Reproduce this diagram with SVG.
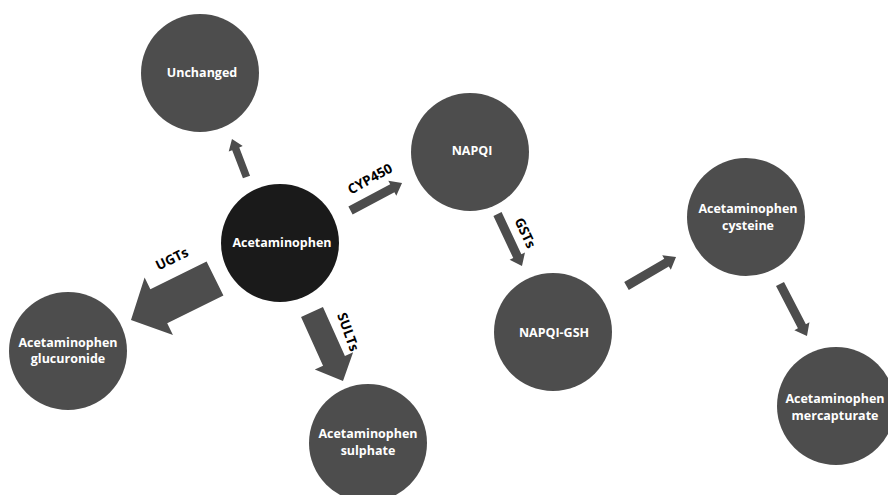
<svg xmlns="http://www.w3.org/2000/svg" width="888" height="495" viewBox="0 0 888 495">
<style>
.node{fill:#4d4d4d}
.main{fill:#1a1a1a}
.nt{fill:#ffffff;font-family:"Open Sans","Liberation Sans",sans-serif;font-weight:700;font-size:12.5px;text-anchor:middle}
.arr{fill:#4d4d4d}
.lbl{fill:#000000;font-family:"Open Sans","Liberation Sans",sans-serif;font-weight:700;font-size:13.5px;text-anchor:middle}
</style>
<rect width="888" height="495" fill="#ffffff"/>
<g id="connectors">
<polygon class="arr" transform="translate(246.5,177) rotate(-110.9)" points="0,-3.8 30.2,-3.8 30.2,-7.5 40.7,0 30.2,7.5 30.2,3.8 0,3.8"/>
<polygon class="arr" transform="translate(350.5,210.5) rotate(-28.1)" points="0,-4.5 47.4,-4.5 47.4,-8.5 58.4,0 47.4,8.5 47.4,4.5 0,4.5"/>
<polygon class="arr" transform="translate(215,278.5) rotate(153.7)" points="0,-19 62.7,-19 62.7,-32 93.7,0 62.7,32 62.7,19 0,19"/>
<polygon class="arr" transform="translate(312,312) rotate(65.8)" points="0,-12 53.6,-12 53.6,-21 75.6,0 53.6,21 53.6,12 0,12"/>
<polygon class="arr" transform="translate(497.5,214) rotate(64.8)" points="0,-4.5 46.5,-4.5 46.5,-8.5 57.5,0 46.5,8.5 46.5,4.5 0,4.5"/>
<polygon class="arr" transform="translate(626.5,286) rotate(-30.4)" points="0,-4.5 46.4,-4.5 46.4,-8.5 57.4,0 46.4,8.5 46.4,4.5 0,4.5"/>
<polygon class="arr" transform="translate(780,284) rotate(62.6)" points="0,-4.5 47.6,-4.5 47.6,-8.5 58.6,0 47.6,8.5 47.6,4.5 0,4.5"/>
<text class="lbl" transform="translate(370,179) rotate(-29)" dy="4.5">CYP450</text>
<text class="lbl" transform="translate(172,259) rotate(-26)" dy="4.5">UGTs</text>
<text class="lbl" transform="translate(348,332) rotate(70)" dy="4.5">SULTs</text>
<text class="lbl" transform="translate(525,233) rotate(65)" dy="4.5">GSTs</text>
</g>
<g id="unchanged">
<circle class="node" cx="200" cy="73" r="59"/>
<text class="nt" x="202" y="77">Unchanged</text>
</g>
<g id="acetaminophen">
<circle class="main" cx="280" cy="243" r="59"/>
<text class="nt" x="282" y="247">Acetaminophen</text>
</g>
<g id="napqi">
<circle class="node" cx="470" cy="152" r="59"/>
<text class="nt" x="472" y="155">NAPQI</text>
</g>
<g id="cysteine">
<circle class="node" cx="746" cy="217" r="59"/>
<text class="nt" x="748" y="213">Acetaminophen</text>
<text class="nt" x="748" y="230">cysteine</text>
</g>
<g id="napqi-gsh">
<circle class="node" cx="553" cy="332" r="59"/>
<text class="nt" x="554" y="337">NAPQI-GSH</text>
</g>
<g id="glucuronide">
<circle class="node" cx="68" cy="351" r="59"/>
<text class="nt" x="68" y="347">Acetaminophen</text>
<text class="nt" x="68" y="363">glucuronide</text>
</g>
<g id="sulphate">
<circle class="node" cx="368" cy="443" r="59"/>
<text class="nt" x="368" y="438">Acetaminophen</text>
<text class="nt" x="368" y="455">sulphate</text>
</g>
<g id="mercapturate">
<circle class="node" cx="836" cy="406" r="59"/>
<text class="nt" x="835" y="403">Acetaminophen</text>
<text class="nt" x="835" y="420">mercapturate</text>
</g>
</svg>
